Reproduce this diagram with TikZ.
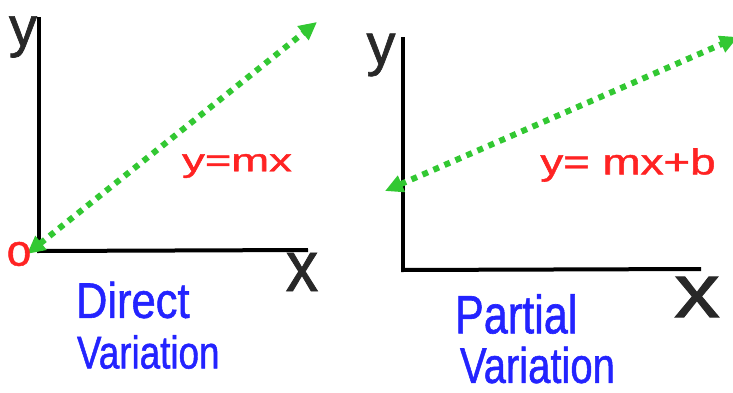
\documentclass[tikz,border=0pt]{standalone}
\usepackage{fontspec}
\setmainfont{Liberation Sans}
\newfontfamily\hwfont[FakeBold=1.2]{Liberation Sans}
\usetikzlibrary{arrows.meta}
\definecolor{gr}{RGB}{50,200,50}
\definecolor{rd}{RGB}{255,35,35}
\definecolor{bl}{RGB}{35,35,255}
\definecolor{ax}{RGB}{40,40,40}
\newcommand{\hwtext}[3]{\hwfont\fontsize{#1}{#1}\selectfont\scalebox{#2}[1]{#3}}
\tikzset{
  axisline/.style={line width=4pt, black},
  greenarrow/.style={line width=6pt, gr, dash pattern=on 6pt off 6pt,
     {Triangle[length=18pt,width=17pt]}-{Triangle[length=18pt,width=17pt]}},
  lbl/.style={inner sep=0pt, outer sep=0pt, anchor=center},
}
\begin{document}
\begin{tikzpicture}[x=1pt,y=-1pt]
\useasboundingbox (0,0) rectangle (733,392);
% left graph
\coordinate (L0) at (39,251);
\coordinate (Ltop) at (39,17);
\coordinate (Lright) at (308,250);
\draw[axisline] (Ltop) -- (L0);
\draw[axisline] ([xshift=-2pt]L0) -- (Lright);
\coordinate (LA) at (27,254);
\coordinate (LB) at (317,22);
\draw[greenarrow] (LA) -- (LB);
\node[lbl, text=ax] (ly) at (23,37) {\hwtext{56}{1}{y}};
\node[lbl, text=ax] (lx) at (302,272) {\hwtext{72}{0.9}{x}};
\node[lbl, text=rd] (lo) at (19,254) {\hwtext{44}{1}{o}};
\node[lbl, text=rd] (leq) at (237,166) {\hwtext{32}{1.42}{y=mx}};
\node[lbl, text=bl, anchor=west] (ld) at (76,300) {\hwtext{50}{0.87}{Direct}};
\node[lbl, text=bl, anchor=west] (lv) at (77,352) {\hwtext{46}{0.8}{Variation}};
% right graph
\coordinate (R0) at (403,270);
\coordinate (Rtop) at (403,37);
\coordinate (Rright) at (701,269);
\draw[axisline] (Rtop) -- (R0);
\draw[axisline] ([xshift=-2pt]R0) -- (Rright);
\coordinate (RA) at (385,191);
\coordinate (RB) at (738,37);
\draw[greenarrow] (RA) -- (RB);
\node[lbl, text=ax] (ry) at (381,55) {\hwtext{58}{1}{y}};
\node[lbl, text=ax] (rx) at (697,297) {\hwtext{76}{1.2}{x}};
\node[lbl, text=rd] (req) at (628,165) {\hwtext{36}{1.27}{y= mx+b}};
\node[lbl, text=bl, anchor=west] (rp) at (455,314) {\hwtext{54}{0.8}{Partial}};
\node[lbl, text=bl, anchor=west] (rv) at (460,365) {\hwtext{50}{0.8}{Variation}};
\end{tikzpicture}
\end{document}
